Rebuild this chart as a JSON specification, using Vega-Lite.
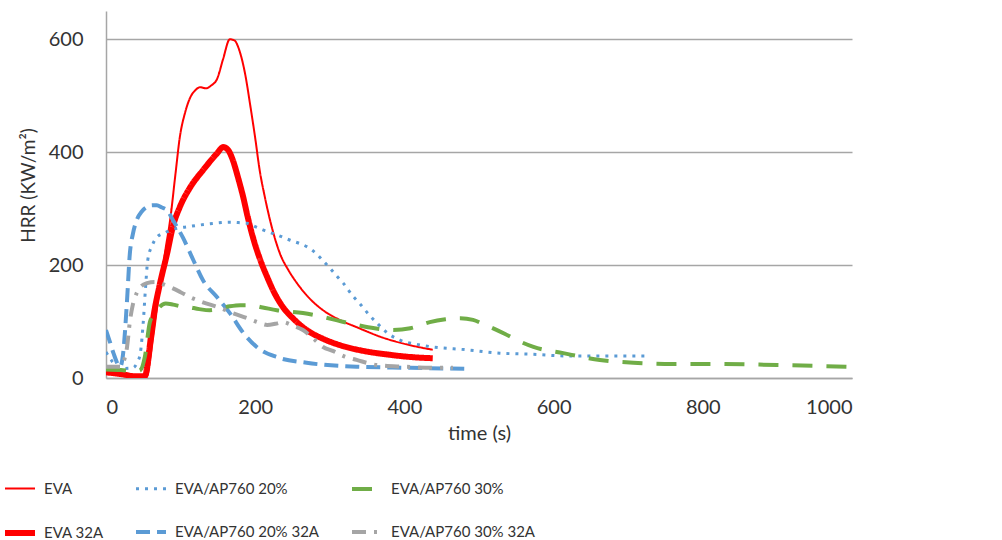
{
  "$schema": "https://vega.github.io/schema/vega-lite/v6.json",
  "width": 746,
  "height": 367,
  "autosize": {"type": "none"},
  "padding": {"left": 106, "top": 11, "right": 150, "bottom": 162},
  "background": "white",
  "config": {
    "font": "Lato",
    "view": {"stroke": null},
    "axis": {"labelColor": "#333333", "titleColor": "#333333", "titleFontWeight": "normal"},
    "legend": {"title": null, "orient": "none", "legendX": -104, "legendY": 461, "columns": 3,
        "symbolType": "stroke", "symbolSize": 900, "labelFontSize": 15, "labelColor": "#333333",
        "labelOffset": 6, "columnPadding": 24, "rowPadding": 18, "labelLimit": 300}
  },
  "data": {"values": [
    {"s":"EVA","t":0,"v":8},{"s":"EVA","t":20,"v":5},{"s":"EVA","t":40,"v":2},{"s":"EVA","t":55,"v":4},{"s":"EVA","t":63,"v":70},{"s":"EVA","t":72,"v":160},{"s":"EVA","t":80,"v":230},{"s":"EVA","t":86,"v":280},{"s":"EVA","t":93,"v":360},{"s":"EVA","t":99,"v":427},{"s":"EVA","t":106,"v":470},{"s":"EVA","t":113,"v":497},{"s":"EVA","t":120,"v":510},{"s":"EVA","t":126,"v":515},{"s":"EVA","t":134,"v":513},{"s":"EVA","t":141,"v":518},{"s":"EVA","t":149,"v":530},{"s":"EVA","t":157,"v":565},{"s":"EVA","t":166,"v":600},{"s":"EVA","t":172,"v":598},{"s":"EVA","t":180,"v":575},{"s":"EVA","t":187,"v":535},{"s":"EVA","t":193,"v":486},{"s":"EVA","t":200,"v":425},{"s":"EVA","t":206,"v":368},{"s":"EVA","t":213,"v":320},{"s":"EVA","t":220,"v":279},{"s":"EVA","t":233,"v":221},{"s":"EVA","t":245,"v":190},{"s":"EVA","t":256,"v":168},{"s":"EVA","t":270,"v":145},{"s":"EVA","t":291,"v":120},{"s":"EVA","t":313,"v":103},{"s":"EVA","t":336,"v":90},{"s":"EVA","t":370,"v":72},{"s":"EVA","t":408,"v":58},{"s":"EVA","t":438,"v":50},
    {"s":"EVA 32A","t":0,"v":10},{"s":"EVA 32A","t":20,"v":7},{"s":"EVA 32A","t":40,"v":3},{"s":"EVA 32A","t":52,"v":3},{"s":"EVA 32A","t":57,"v":40},{"s":"EVA 32A","t":63,"v":103},{"s":"EVA 32A","t":72,"v":165},{"s":"EVA 32A","t":82,"v":221},{"s":"EVA 32A","t":90,"v":270},{"s":"EVA 32A","t":99,"v":303},{"s":"EVA 32A","t":113,"v":338},{"s":"EVA 32A","t":130,"v":368},{"s":"EVA 32A","t":149,"v":398},{"s":"EVA 32A","t":157,"v":409},{"s":"EVA 32A","t":163,"v":405},{"s":"EVA 32A","t":170,"v":386},{"s":"EVA 32A","t":177,"v":355},{"s":"EVA 32A","t":184,"v":320},{"s":"EVA 32A","t":190,"v":285},{"s":"EVA 32A","t":197,"v":249},{"s":"EVA 32A","t":206,"v":212},{"s":"EVA 32A","t":216,"v":179},{"s":"EVA 32A","t":226,"v":150},{"s":"EVA 32A","t":237,"v":126},{"s":"EVA 32A","t":252,"v":104},{"s":"EVA 32A","t":269,"v":85},{"s":"EVA 32A","t":290,"v":70},{"s":"EVA 32A","t":314,"v":58},{"s":"EVA 32A","t":345,"v":48},{"s":"EVA 32A","t":381,"v":41},{"s":"EVA 32A","t":410,"v":37},{"s":"EVA 32A","t":438,"v":35},
    {"s":"EVA/AP760 20%","t":0,"v":46},{"s":"EVA/AP760 20%","t":8,"v":30},{"s":"EVA/AP760 20%","t":15,"v":20},{"s":"EVA/AP760 20%","t":25,"v":17},{"s":"EVA/AP760 20%","t":36,"v":18},{"s":"EVA/AP760 20%","t":42,"v":28},{"s":"EVA/AP760 20%","t":46,"v":44},{"s":"EVA/AP760 20%","t":50,"v":100},{"s":"EVA/AP760 20%","t":53,"v":160},{"s":"EVA/AP760 20%","t":56,"v":209},{"s":"EVA/AP760 20%","t":62,"v":235},{"s":"EVA/AP760 20%","t":68,"v":249},{"s":"EVA/AP760 20%","t":80,"v":258},{"s":"EVA/AP760 20%","t":95,"v":265},{"s":"EVA/AP760 20%","t":110,"v":268},{"s":"EVA/AP760 20%","t":126,"v":271},{"s":"EVA/AP760 20%","t":145,"v":274},{"s":"EVA/AP760 20%","t":166,"v":276},{"s":"EVA/AP760 20%","t":180,"v":275},{"s":"EVA/AP760 20%","t":189,"v":274},{"s":"EVA/AP760 20%","t":200,"v":268},{"s":"EVA/AP760 20%","t":211,"v":262},{"s":"EVA/AP760 20%","t":230,"v":253},{"s":"EVA/AP760 20%","t":247,"v":244},{"s":"EVA/AP760 20%","t":260,"v":238},{"s":"EVA/AP760 20%","t":270,"v":232},{"s":"EVA/AP760 20%","t":283,"v":219},{"s":"EVA/AP760 20%","t":292,"v":206},{"s":"EVA/AP760 20%","t":300,"v":195},{"s":"EVA/AP760 20%","t":309,"v":181},{"s":"EVA/AP760 20%","t":318,"v":168},{"s":"EVA/AP760 20%","t":331,"v":145},{"s":"EVA/AP760 20%","t":340,"v":132},{"s":"EVA/AP760 20%","t":354,"v":110},{"s":"EVA/AP760 20%","t":365,"v":95},{"s":"EVA/AP760 20%","t":376,"v":81},{"s":"EVA/AP760 20%","t":394,"v":67},{"s":"EVA/AP760 20%","t":415,"v":60},{"s":"EVA/AP760 20%","t":438,"v":55},{"s":"EVA/AP760 20%","t":483,"v":50},{"s":"EVA/AP760 20%","t":528,"v":44},{"s":"EVA/AP760 20%","t":573,"v":42},{"s":"EVA/AP760 20%","t":618,"v":39},{"s":"EVA/AP760 20%","t":662,"v":39},{"s":"EVA/AP760 20%","t":725,"v":39},
    {"s":"EVA/AP760 20% 32A","t":0,"v":85},{"s":"EVA/AP760 20% 32A","t":5,"v":65},{"s":"EVA/AP760 20% 32A","t":10,"v":44},{"s":"EVA/AP760 20% 32A","t":19,"v":20},{"s":"EVA/AP760 20% 32A","t":23,"v":44},{"s":"EVA/AP760 20% 32A","t":28,"v":133},{"s":"EVA/AP760 20% 32A","t":32,"v":221},{"s":"EVA/AP760 20% 32A","t":36,"v":255},{"s":"EVA/AP760 20% 32A","t":41,"v":279},{"s":"EVA/AP760 20% 32A","t":48,"v":295},{"s":"EVA/AP760 20% 32A","t":55,"v":303},{"s":"EVA/AP760 20% 32A","t":62,"v":306},{"s":"EVA/AP760 20% 32A","t":68,"v":306},{"s":"EVA/AP760 20% 32A","t":75,"v":302},{"s":"EVA/AP760 20% 32A","t":82,"v":297},{"s":"EVA/AP760 20% 32A","t":90,"v":279},{"s":"EVA/AP760 20% 32A","t":103,"v":249},{"s":"EVA/AP760 20% 32A","t":117,"v":209},{"s":"EVA/AP760 20% 32A","t":130,"v":173},{"s":"EVA/AP760 20% 32A","t":149,"v":143},{"s":"EVA/AP760 20% 32A","t":166,"v":115},{"s":"EVA/AP760 20% 32A","t":184,"v":80},{"s":"EVA/AP760 20% 32A","t":202,"v":55},{"s":"EVA/AP760 20% 32A","t":229,"v":37},{"s":"EVA/AP760 20% 32A","t":269,"v":27},{"s":"EVA/AP760 20% 32A","t":336,"v":20},{"s":"EVA/AP760 20% 32A","t":408,"v":18},{"s":"EVA/AP760 20% 32A","t":488,"v":16},
    {"s":"EVA/AP760 30%","t":0,"v":15},{"s":"EVA/AP760 30%","t":20,"v":14},{"s":"EVA/AP760 30%","t":40,"v":12},{"s":"EVA/AP760 30%","t":46,"v":14},{"s":"EVA/AP760 30%","t":52,"v":37},{"s":"EVA/AP760 30%","t":59,"v":100},{"s":"EVA/AP760 30%","t":66,"v":115},{"s":"EVA/AP760 30%","t":72,"v":126},{"s":"EVA/AP760 30%","t":80,"v":132},{"s":"EVA/AP760 30%","t":90,"v":130},{"s":"EVA/AP760 30%","t":100,"v":127},{"s":"EVA/AP760 30%","t":109,"v":126},{"s":"EVA/AP760 30%","t":125,"v":122},{"s":"EVA/AP760 30%","t":139,"v":120},{"s":"EVA/AP760 30%","t":155,"v":124},{"s":"EVA/AP760 30%","t":166,"v":127},{"s":"EVA/AP760 30%","t":180,"v":129},{"s":"EVA/AP760 30%","t":193,"v":129},{"s":"EVA/AP760 30%","t":210,"v":125},{"s":"EVA/AP760 30%","t":229,"v":120},{"s":"EVA/AP760 30%","t":264,"v":115},{"s":"EVA/AP760 30%","t":291,"v":108},{"s":"EVA/AP760 30%","t":310,"v":102},{"s":"EVA/AP760 30%","t":336,"v":94},{"s":"EVA/AP760 30%","t":360,"v":88},{"s":"EVA/AP760 30%","t":385,"v":85},{"s":"EVA/AP760 30%","t":408,"v":88},{"s":"EVA/AP760 30%","t":434,"v":99},{"s":"EVA/AP760 30%","t":455,"v":104},{"s":"EVA/AP760 30%","t":475,"v":106},{"s":"EVA/AP760 30%","t":492,"v":103},{"s":"EVA/AP760 30%","t":505,"v":96},{"s":"EVA/AP760 30%","t":519,"v":88},{"s":"EVA/AP760 30%","t":535,"v":78},{"s":"EVA/AP760 30%","t":551,"v":67},{"s":"EVA/AP760 30%","t":573,"v":55},{"s":"EVA/AP760 30%","t":613,"v":44},{"s":"EVA/AP760 30%","t":662,"v":32},{"s":"EVA/AP760 30%","t":707,"v":27},{"s":"EVA/AP760 30%","t":760,"v":25},{"s":"EVA/AP760 30%","t":805,"v":25},{"s":"EVA/AP760 30%","t":900,"v":23},{"s":"EVA/AP760 30%","t":993,"v":20},
    {"s":"EVA/AP760 30% 32A","t":0,"v":20},{"s":"EVA/AP760 30% 32A","t":10,"v":20},{"s":"EVA/AP760 30% 32A","t":19,"v":20},{"s":"EVA/AP760 30% 32A","t":25,"v":35},{"s":"EVA/AP760 30% 32A","t":28,"v":53},{"s":"EVA/AP760 30% 32A","t":32,"v":100},{"s":"EVA/AP760 30% 32A","t":36,"v":130},{"s":"EVA/AP760 30% 32A","t":41,"v":150},{"s":"EVA/AP760 30% 32A","t":46,"v":161},{"s":"EVA/AP760 30% 32A","t":55,"v":168},{"s":"EVA/AP760 30% 32A","t":65,"v":170},{"s":"EVA/AP760 30% 32A","t":72,"v":168},{"s":"EVA/AP760 30% 32A","t":86,"v":161},{"s":"EVA/AP760 30% 32A","t":100,"v":152},{"s":"EVA/AP760 30% 32A","t":113,"v":143},{"s":"EVA/AP760 30% 32A","t":130,"v":134},{"s":"EVA/AP760 30% 32A","t":149,"v":126},{"s":"EVA/AP760 30% 32A","t":170,"v":115},{"s":"EVA/AP760 30% 32A","t":189,"v":106},{"s":"EVA/AP760 30% 32A","t":205,"v":98},{"s":"EVA/AP760 30% 32A","t":216,"v":94},{"s":"EVA/AP760 30% 32A","t":227,"v":96},{"s":"EVA/AP760 30% 32A","t":237,"v":99},{"s":"EVA/AP760 30% 32A","t":250,"v":93},{"s":"EVA/AP760 30% 32A","t":264,"v":85},{"s":"EVA/AP760 30% 32A","t":278,"v":70},{"s":"EVA/AP760 30% 32A","t":291,"v":55},{"s":"EVA/AP760 30% 32A","t":304,"v":48},{"s":"EVA/AP760 30% 32A","t":320,"v":38},{"s":"EVA/AP760 30% 32A","t":336,"v":32},{"s":"EVA/AP760 30% 32A","t":363,"v":23},{"s":"EVA/AP760 30% 32A","t":400,"v":20},{"s":"EVA/AP760 30% 32A","t":438,"v":18},{"s":"EVA/AP760 30% 32A","t":465,"v":18}
  ]},
  "mark": {"type": "line", "interpolate": "monotone", "clip": true},
  "encoding": {
    "x": {"field": "t", "type": "quantitative",
      "scale": {"domain": [0, 1000], "nice": false},
      "axis": {"title": "time (s)", "values": [0, 200, 400, 600, 800, 1000], "format": "d", "grid": false, "ticks": false,
        "domainColor": "#a6a6a6", "domainWidth": 1.5, "labelFontSize": 20, "labelPadding": 19,
        "titleFontSize": 20, "titlePadding": 6}},
    "y": {"field": "v", "type": "quantitative",
      "scale": {"domain": [0, 650], "nice": false},
      "axis": {"title": "HRR (KW/m²)", "values": [0, 200, 400, 600], "grid": true, "gridColor": "#a6a6a6", "gridWidth": 1.5,
        "ticks": false, "domainColor": "#a6a6a6", "domainWidth": 1.5, "labelFontSize": 20, "labelPadding": 23,
        "titleFontSize": 19, "titlePadding": 10, "titleY": 174}},
    "color": {"field": "s", "type": "nominal",
      "scale": {"domain": ["EVA", "EVA 32A", "EVA/AP760 20%", "EVA/AP760 20% 32A", "EVA/AP760 30%", "EVA/AP760 30% 32A"],
        "range": ["#ff0000", "#ff0000", "#5b9bd5", "#5b9bd5", "#70ad47", "#a5a5a5"]}},
    "strokeDash": {"field": "s", "type": "nominal",
      "scale": {"domain": ["EVA", "EVA 32A", "EVA/AP760 20%", "EVA/AP760 20% 32A", "EVA/AP760 30%", "EVA/AP760 30% 32A"],
        "range": [[1, 0], [1, 0], [3, 6], [14, 7], [20, 14], [14, 8, 3, 8]]}},
    "strokeWidth": {"field": "s", "type": "ordinal",
      "scale": {"type": "ordinal", "domain": ["EVA", "EVA 32A", "EVA/AP760 20%", "EVA/AP760 20% 32A", "EVA/AP760 30%", "EVA/AP760 30% 32A"],
        "range": [2, 6, 3, 4, 4, 4]}}
  }
}
